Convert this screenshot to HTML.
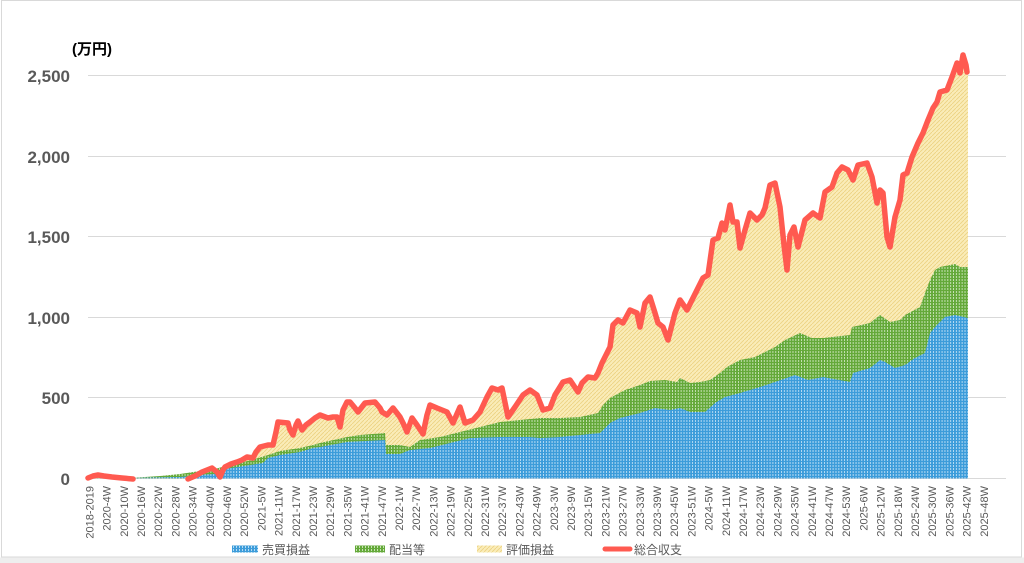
<!DOCTYPE html>
<html>
<head>
<meta charset="utf-8">
<style>
html,body{margin:0;padding:0;background:#fff;}
body{width:1024px;height:563px;overflow:hidden;}
svg{display:block;}
text{font-family:"Liberation Sans","Noto Sans CJK JP",sans-serif;}
</style>
</head>
<body>
<svg width="1024" height="563" viewBox="0 0 1024 563" xmlns="http://www.w3.org/2000/svg">
<defs>
  <pattern id="pb" x="88" y="0" width="2.8675" height="3" patternUnits="userSpaceOnUse">
    <rect width="2.8675" height="3" fill="#3c9cda"/>
    <rect x="2.0" y="0" width="0.86" height="2" fill="#c4e2f6"/>
  </pattern>
  <pattern id="pg" x="88" y="0" width="2.8675" height="3" patternUnits="userSpaceOnUse">
    <rect width="2.8675" height="3" fill="#64a939"/>
    <rect x="2.0" y="0" width="0.86" height="2" fill="#d2e8c2"/>
  </pattern>
  <pattern id="py" width="4" height="4" patternUnits="userSpaceOnUse">
    <rect width="4" height="4" fill="#faecb8"/>
    <path d="M0,4 L4,0" stroke="#ecd283" stroke-width="0.9"/>
  </pattern>
  <pattern id="pbl" width="3" height="3" patternUnits="userSpaceOnUse">
    <rect width="3" height="3" fill="#3c9cda"/>
    <rect x="2.1" width="0.9" height="2" fill="#c4e2f6"/>
  </pattern>
  <pattern id="pgl" width="3" height="3" patternUnits="userSpaceOnUse">
    <rect width="3" height="3" fill="#64a939"/>
    <rect x="2.1" width="0.9" height="2" fill="#d2e8c2"/>
  </pattern>
</defs>

<!-- frame -->
<rect x="1.5" y="0.5" width="1020" height="556.5" fill="none" stroke="#d9d9d9" stroke-width="1"/>
<rect x="0" y="557.5" width="1024" height="6" fill="#eeeeee"/>

<!-- gridlines -->
<g stroke="#d9d9d9" stroke-width="1">
  <line x1="88" y1="75.5" x2="1006" y2="75.5"/>
  <line x1="88" y1="156.5" x2="1006" y2="156.5"/>
  <line x1="88" y1="236.5" x2="1006" y2="236.5"/>
  <line x1="88" y1="317.5" x2="1006" y2="317.5"/>
  <line x1="88" y1="397.5" x2="1006" y2="397.5"/>
  <line x1="88" y1="478.5" x2="1006" y2="478.5"/>
</g>

<!-- y axis labels -->
<g font-size="17" font-weight="bold" fill="#595959" text-anchor="end">
  <text x="70" y="82">2,500</text>
  <text x="70" y="163">2,000</text>
  <text x="70" y="243">1,500</text>
  <text x="70" y="324">1,000</text>
  <text x="70" y="404">500</text>
  <text x="70" y="485">0</text>
</g>
<text x="72" y="54" font-size="15" font-weight="bold" fill="#000">(万円)</text>

<!-- yellow (評価損益) area up to total line -->
<polygon fill="url(#py)" points="88,478.5 88,478 93,476 98,475 104,476 112,477 122,478 135,479 186,479 195,476 202,472 207,470 212,468 217,472 220,477 223,470 225,467 231,464 237,462 242,460 247,457 253,458 256,452 260,447 268,445 273,445 276,432 278,422 288,423 290,430 293,435 296,425 298,421 302,430 306,425 310,422 315,418 320,415 328,418 333,417 337,417 340,427 343,410 347,402 350,402 355,408 358,412 365,403 375,402 380,408 382,412 387,415 393,408 400,417 404,425 407,432 412,418 417,425 423,434 427,415 430,405 437,408 447,412 453,423 460,407 465,423 473,420 480,412 487,397 492,388 498,390 502,388 508,417 515,407 523,395 530,390 537,395 543,410 550,408 555,395 563,382 570,380 578,392 582,383 588,377 595,378 598,373 602,363 605,357 610,347 613,325 618,320 623,323 630,310 637,313 640,327 645,303 650,297 655,313 658,323 663,327 668,340 675,313 680,300 687,310 692,300 697,290 703,278 708,275 713,240 718,238 722,223 725,230 730,205 733,222 737,222 740,248 745,230 750,213 757,220 762,215 765,208 770,185 775,183 780,207 784,245 787,270 790,235 794,227 798,247 805,220 813,213 820,218 825,192 832,187 837,173 842,167 848,170 853,180 858,165 867,163 872,177 877,203 880,190 883,193 887,237 890,247 895,217 900,200 903,175 907,173 912,157 918,143 923,133 928,120 933,108 937,102 940,92 947,90 952,77 957,63 960,73 963,55 966,65 968,72 968,478.5"/>

<!-- green (配当等) stacked top -->
<polygon fill="url(#pg)" points="88,478.5 130,478 160,476 180,474 200,471 215,469 222,467 240,463 255,459 268,455 280,451 300,448 313,445 320,443 347,437 360,435 385,433 386,445 400,445 410,447 420,440 440,437 460,432 480,427 500,422 520,420 540,418 560,418 580,417 598,413 603,405 610,398 625,390 640,385 650,381 665,380 677,382 680,378 690,383 700,382 710,380 720,373 727,367 740,360 755,357 765,352 775,347 785,340 800,333 812,338 823,338 850,335 852,327 870,323 880,315 890,322 900,320 905,315 920,307 925,293 930,280 935,270 940,267 955,264 960,267 968,267 968,478.5"/>

<!-- blue (売買損益) -->
<polygon fill="url(#pb)" points="88,478.5 130,478 180,477 200,475 215,474 222,470 225,469 250,465 263,463 268,458 280,455 300,452 313,448 320,447 347,442 385,440 386,454 400,454 410,450 430,448 450,443 470,438 500,437 530,437 540,438 560,437 580,435 600,433 605,428 610,423 620,418 640,413 655,408 670,410 680,408 690,412 705,412 715,403 725,397 740,393 760,387 775,382 795,375 808,380 823,377 850,382 853,373 870,368 880,360 885,362 895,368 905,365 915,358 925,353 930,333 937,325 945,317 955,315 968,318 968,478.5"/>

<!-- total line (総合収支) -->
<g fill="none" stroke="#ff5a50" stroke-width="5.5" stroke-linejoin="round" stroke-linecap="round">
  <polyline points="88,478 93,476 98,475 104,476 112,477 122,478 133,479"/>
  <polyline points="188,479 195,476 202,472 207,470 212,468 217,472 220,477 223,470 225,467 231,464 237,462 242,460 247,457 253,458 256,452 260,447 268,445 273,445 276,432 278,422 288,423 290,430 293,435 296,425 298,421 302,430 306,425 310,422 315,418 320,415 328,418 333,417 337,417 340,427 343,410 347,402 350,402 355,408 358,412 365,403 375,402 380,408 382,412 387,415 393,408 400,417 404,425 407,432 412,418 417,425 423,434 427,415 430,405 437,408 447,412 453,423 460,407 465,423 473,420 480,412 487,397 492,388 498,390 502,388 508,417 515,407 523,395 530,390 537,395 543,410 550,408 555,395 563,382 570,380 578,392 582,383 588,377 595,378 598,373 602,363 605,357 610,347 613,325 618,320 623,323 630,310 637,313 640,327 645,303 650,297 655,313 658,323 663,327 668,340 675,313 680,300 687,310 692,300 697,290 703,278 708,275 713,240 718,238 722,223 725,230 730,205 733,222 737,222 740,248 745,230 750,213 757,220 762,215 765,208 770,185 775,183 780,207 784,245 787,270 790,235 794,227 798,247 805,220 813,213 820,218 825,192 832,187 837,173 842,167 848,170 853,180 858,165 867,163 872,177 877,203 880,190 883,193 887,237 890,247 895,217 900,200 903,175 907,173 912,157 918,143 923,133 928,120 933,108 937,102 940,92 947,90 952,77 957,63 960,73 963,55 966,65 967,72"/>
</g>

<!-- x axis labels -->
<g font-size="11" fill="#595959" text-anchor="end">
<text transform="translate(93.4,486) rotate(-90)">2018-2019</text>
<text transform="translate(110.6,486) rotate(-90)">2020-4W</text>
<text transform="translate(127.8,486) rotate(-90)">2020-10W</text>
<text transform="translate(145.0,486) rotate(-90)">2020-16W</text>
<text transform="translate(162.2,486) rotate(-90)">2020-22W</text>
<text transform="translate(179.4,486) rotate(-90)">2020-28W</text>
<text transform="translate(196.6,486) rotate(-90)">2020-34W</text>
<text transform="translate(213.8,486) rotate(-90)">2020-40W</text>
<text transform="translate(231.0,486) rotate(-90)">2020-46W</text>
<text transform="translate(248.2,486) rotate(-90)">2020-52W</text>
<text transform="translate(265.4,486) rotate(-90)">2021-5W</text>
<text transform="translate(282.6,486) rotate(-90)">2021-11W</text>
<text transform="translate(299.8,486) rotate(-90)">2021-17W</text>
<text transform="translate(317.0,486) rotate(-90)">2021-23W</text>
<text transform="translate(334.2,486) rotate(-90)">2021-29W</text>
<text transform="translate(351.4,486) rotate(-90)">2021-35W</text>
<text transform="translate(368.6,486) rotate(-90)">2021-41W</text>
<text transform="translate(385.8,486) rotate(-90)">2021-47W</text>
<text transform="translate(403.0,486) rotate(-90)">2022-1W</text>
<text transform="translate(420.2,486) rotate(-90)">2022-7W</text>
<text transform="translate(437.4,486) rotate(-90)">2022-13W</text>
<text transform="translate(454.6,486) rotate(-90)">2022-19W</text>
<text transform="translate(471.8,486) rotate(-90)">2022-25W</text>
<text transform="translate(489.0,486) rotate(-90)">2022-31W</text>
<text transform="translate(506.2,486) rotate(-90)">2022-37W</text>
<text transform="translate(523.4,486) rotate(-90)">2022-43W</text>
<text transform="translate(540.6,486) rotate(-90)">2022-49W</text>
<text transform="translate(557.8,486) rotate(-90)">2023-3W</text>
<text transform="translate(575.0,486) rotate(-90)">2023-9W</text>
<text transform="translate(592.2,486) rotate(-90)">2023-15W</text>
<text transform="translate(609.4,486) rotate(-90)">2023-21W</text>
<text transform="translate(626.6,486) rotate(-90)">2023-27W</text>
<text transform="translate(643.8,486) rotate(-90)">2023-33W</text>
<text transform="translate(661.0,486) rotate(-90)">2023-39W</text>
<text transform="translate(678.2,486) rotate(-90)">2023-45W</text>
<text transform="translate(695.4,486) rotate(-90)">2023-51W</text>
<text transform="translate(712.6,486) rotate(-90)">2024-5W</text>
<text transform="translate(729.8,486) rotate(-90)">2024-11W</text>
<text transform="translate(747.0,486) rotate(-90)">2024-17W</text>
<text transform="translate(764.2,486) rotate(-90)">2024-23W</text>
<text transform="translate(781.4,486) rotate(-90)">2024-29W</text>
<text transform="translate(798.6,486) rotate(-90)">2024-35W</text>
<text transform="translate(815.8,486) rotate(-90)">2024-41W</text>
<text transform="translate(833.0,486) rotate(-90)">2024-47W</text>
<text transform="translate(850.2,486) rotate(-90)">2024-53W</text>
<text transform="translate(867.4,486) rotate(-90)">2025-6W</text>
<text transform="translate(884.6,486) rotate(-90)">2025-12W</text>
<text transform="translate(901.8,486) rotate(-90)">2025-18W</text>
<text transform="translate(919.0,486) rotate(-90)">2025-24W</text>
<text transform="translate(936.2,486) rotate(-90)">2025-30W</text>
<text transform="translate(953.4,486) rotate(-90)">2025-36W</text>
<text transform="translate(970.6,486) rotate(-90)">2025-42W</text>
<text transform="translate(987.8,486) rotate(-90)">2025-48W</text>
</g>

<!-- legend -->
<rect x="232" y="545.5" width="26" height="7" fill="url(#pbl)"/>
<rect x="355" y="545.5" width="30" height="7" fill="url(#pgl)"/>
<rect x="477" y="545.5" width="25" height="7" fill="url(#py)"/>
<line x1="605" y1="549" x2="630" y2="549" stroke="#ff5a50" stroke-width="5" stroke-linecap="round"/>
<g font-size="12" fill="#595959">
  <text x="262" y="554">売買損益</text>
  <text x="389" y="554">配当等</text>
  <text x="506" y="554">評価損益</text>
  <text x="634" y="554">総合収支</text>
</g>
</svg>
</body>
</html>
